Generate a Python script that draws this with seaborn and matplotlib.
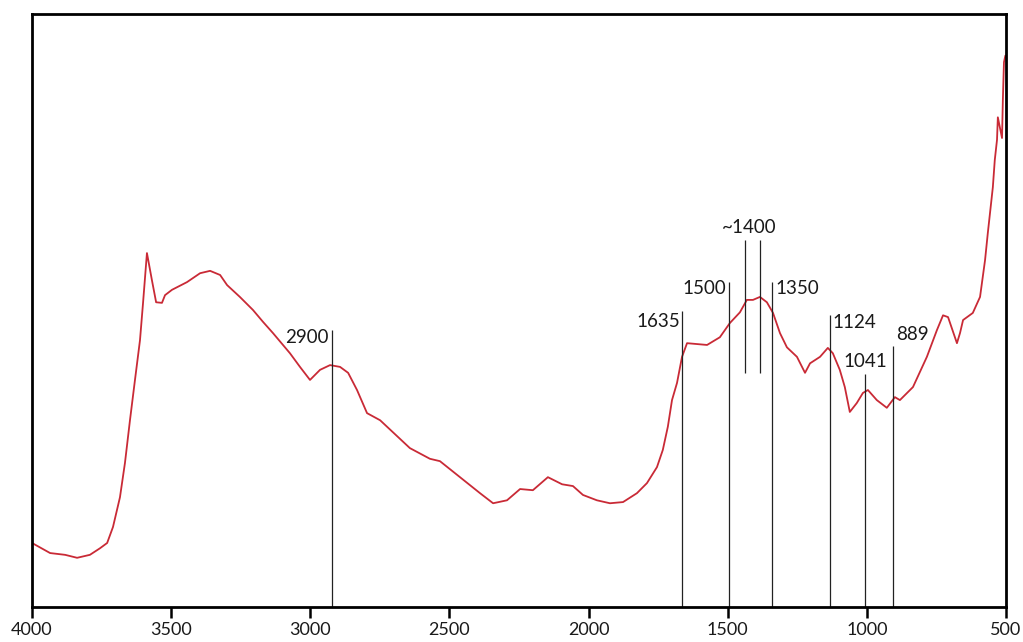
import matplotlib
matplotlib.use("Agg")
import matplotlib.pyplot as plt
import seaborn as sns
import numpy as np
import pandas as pd

# Spectrum (wavenumber, relative intensity)
wavenumber = [4000, 3935, 3881, 3838, 3792, 3756, 3730, 3709, 3684, 3666, 3648, 3630,
              3612, 3601, 3587, 3569, 3554, 3533, 3522, 3497, 3443, 3396, 3360, 3324,
              3299, 3253, 3206, 3170, 3134, 3073, 3037, 3001, 2965, 2929, 2893, 2864,
              2832, 2796, 2749, 2642, 2570, 2534, 2462, 2390, 2343, 2293, 2246, 2200,
              2146, 2095, 2056, 2020, 1970, 1923, 1876, 1826, 1790, 1754, 1733, 1715,
              1700, 1682, 1664, 1646, 1574, 1528, 1492, 1456, 1431, 1409, 1384, 1359,
              1337, 1312, 1287, 1251, 1222, 1204, 1168, 1140, 1122, 1097, 1079, 1061,
              1036, 1014, 996, 964, 928, 899, 881, 834, 784, 748, 726, 708, 676, 665,
              654, 619, 593, 575, 565, 547, 540, 532, 529, 514, 511, 507, 502]
intensity = [10.8, 9.1, 8.8, 8.3, 8.8, 9.9, 10.8, 13.5, 18.5, 24.3, 31.5, 38.3,
             45.0, 51.3, 59.7, 55.1, 51.4, 51.3, 52.6, 53.5, 54.8, 56.3, 56.7, 56.0,
             54.3, 52.3, 50.1, 48.1, 46.2, 42.8, 40.5, 38.3, 40.0, 40.8, 40.5, 39.5,
             36.6, 32.7, 31.5, 26.8, 25.0, 24.6, 21.9, 19.2, 17.5, 18.0, 19.9, 19.7,
             21.9, 20.7, 20.4, 18.9, 18.0, 17.5, 17.7, 19.2, 20.9, 23.6, 26.5, 30.4,
             34.9, 37.8, 42.2, 44.5, 44.2, 45.5, 47.9, 49.7, 51.8, 51.8, 52.3, 51.4,
             49.6, 46.2, 43.8, 42.2, 39.5, 41.1, 42.2, 43.7, 42.8, 40.0, 37.1, 32.9,
             34.4, 36.1, 36.6, 34.9, 33.6, 35.4, 34.9, 37.1, 42.2, 46.7, 49.2, 48.9,
             44.5, 46.2, 48.4, 49.6, 52.3, 58.5, 63.1, 70.8, 75.4, 78.8, 82.6, 79.1,
             85.5, 91.9, 93.0]

# Marker lines: label, drawn position, top, bottom
peak_labels = ["2900", "1635", "1500", "", "", "1350", "1124", "1041", "889"]
peak_pos = [2922, 1664, 1496, 1438, 1384, 1341, 1133, 1007, 906]
peak_top = [46.7, 49.9, 54.8, 61.9, 61.9, 54.8, 49.2, 39.3, 44.0]
peak_bottom = [0, 0, 0, 39.5, 39.5, 0, 0, 0, 0]

xticks = [4000, 3500, 3000, 2500, 2000, 1500, 1000, 500]

sns.set_theme(style="white")
plt.rcParams['font.family'] = ['Lato', 'DejaVu Sans']

fig = plt.figure(figsize=(10.23, 6.42), dpi=100)
ax = fig.add_axes([0.0313, 0.0545, 0.952, 0.9235])

df = pd.DataFrame({"wn": wavenumber, "I": intensity})
sns.lineplot(data=df, x="wn", y="I", ax=ax, color="#c92a36", linewidth=1.3, sort=False)

ax.vlines(peak_pos, peak_bottom, peak_top, colors="#222222", linewidth=0.9)

fs = 13.5
tc = "#1a1a1a"
ax.text(peak_pos[0] + 13, peak_top[0] + 0.2, peak_labels[0], ha="right", va="top", fontsize=fs, color=tc)
ax.text(peak_pos[1] + 6, peak_top[1] - 0.3, peak_labels[1], ha="right", va="top", fontsize=fs, color=tc)
ax.text(peak_pos[2] + 10, peak_top[2] + 0.3, peak_labels[2], ha="right", va="top", fontsize=fs, color=tc)
ax.text((peak_pos[3] + peak_pos[4]) / 2 + 10, peak_top[3] + 0.6, "~1400", ha="center", va="bottom", fontsize=fs, color=tc)
ax.text(peak_pos[5] - 12, peak_top[5] + 0.3, peak_labels[5], ha="left", va="top", fontsize=fs, color=tc)
ax.text(peak_pos[6] - 8, peak_top[6] + 0.3, peak_labels[6], ha="left", va="top", fontsize=fs, color=tc)
ax.text(peak_pos[7], peak_top[7] + 0.6, peak_labels[7], ha="center", va="bottom", fontsize=fs, color=tc)
ax.text(peak_pos[8] - 12, peak_top[8] + 0.6, peak_labels[8], ha="left", va="bottom", fontsize=fs, color=tc)

ax.set_xlim(4000, 500)
ax.set_ylim(0, 100)
ax.set_xticks(xticks)
ax.set_xticklabels([str(t) for t in xticks], fontsize=13, color=tc)
ax.set_yticks([])
ax.set_xlabel("")
ax.set_ylabel("")
ax.tick_params(axis="x", direction="out", length=8, width=1.8, bottom=True, pad=3, colors="black", labelcolor=tc)
for s in ax.spines.values():
    s.set_color("black")
    s.set_linewidth(2)

fig.savefig("out.png", dpi=100)
